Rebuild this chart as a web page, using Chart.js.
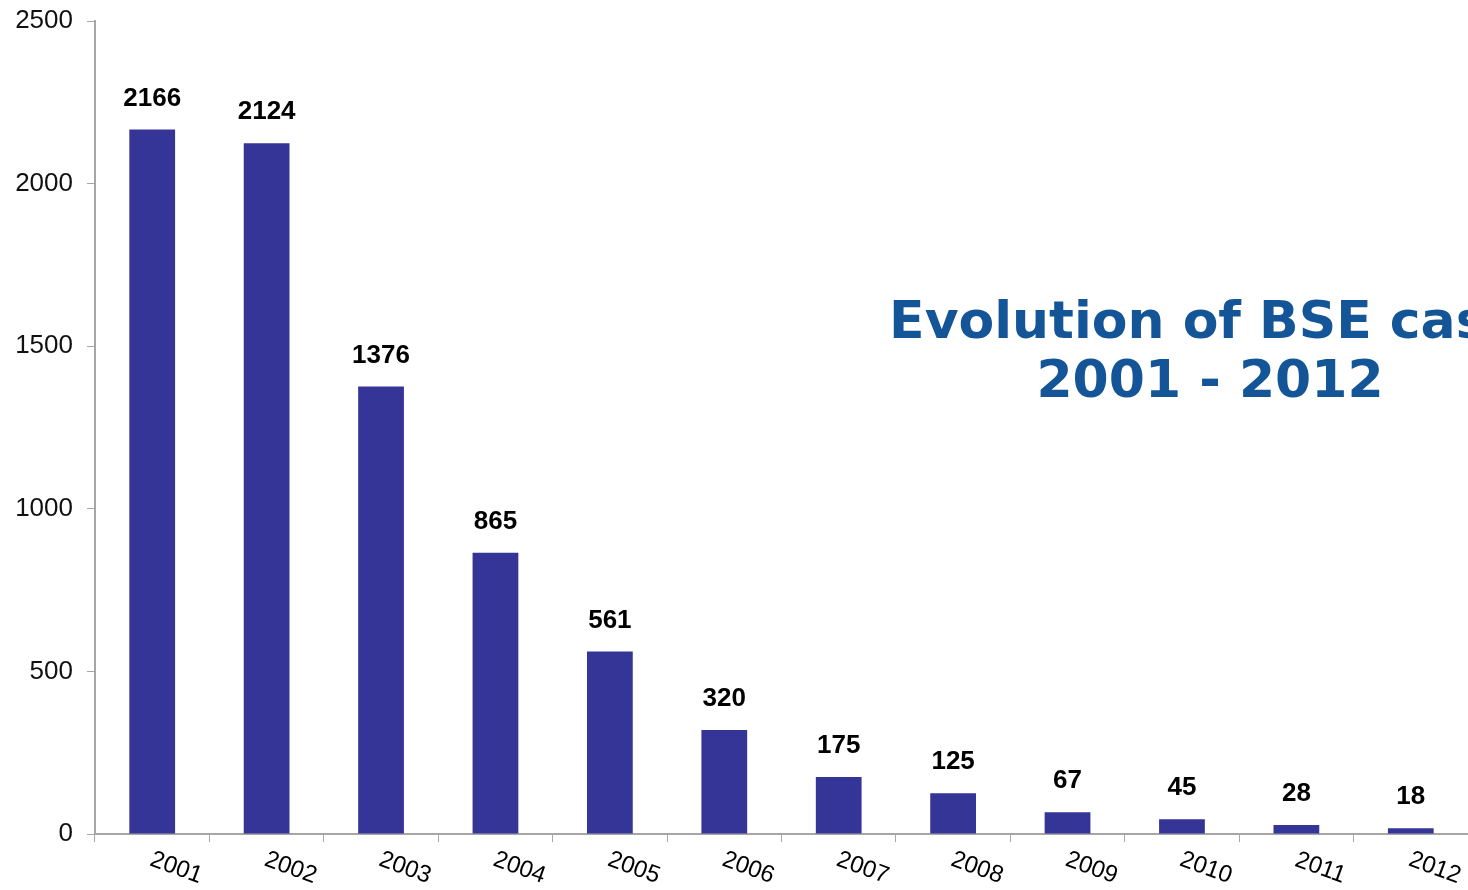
<!DOCTYPE html>
<html>
<head>
<meta charset="utf-8">
<script src="https://cdn.jsdelivr.net/npm/chart.js@4"></script>
<style>
html,body{margin:0;padding:0;background:#fff;}
#wrap{width:1468px;height:890px;position:relative;}
</style>
</head>
<body>
<div id="wrap"><canvas id="c"></canvas></div>
<script>
const years = ['2001','2002','2003','2004','2005','2006','2007','2008','2009','2010','2011','2012'];
const bseCases = [2166, 2124, 1376, 865, 561, 320, 175, 125, 67, 45, 28, 18];
const yTicks = [0, 500, 1000, 1500, 2000, 2500];
const titleLines = ['Evolution of BSE cases', '2001 - 2012'];

const labelsPlugin = {
  id: 'customLabels',
  afterDraw(chart) {
    const ctx = chart.ctx;
    const xs = chart.scales.x;
    const meta = chart.getDatasetMeta(0);
    ctx.save();
    // data labels
    ctx.font = 'bold 26px "Liberation Sans", Arial, sans-serif';
    ctx.fillStyle = '#000';
    ctx.textAlign = 'center';
    ctx.textBaseline = 'alphabetic';
    meta.data.forEach((bar, i) => {
      ctx.fillText(String(bseCases[i]), bar.x, bar.y - 24);
    });
    // x labels, rotated clockwise
    ctx.font = '24px "Liberation Sans", Arial, sans-serif';
    years.forEach((y, i) => {
      const px = xs.getPixelForValue(i) + 24;
      ctx.save();
      ctx.translate(px, xs.top + 34);
      ctx.rotate(20 * Math.PI / 180);
      ctx.textAlign = 'center';
      ctx.textBaseline = 'middle';
      ctx.fillText(y, 0, 0);
      ctx.restore();
    });
    // title
    ctx.fillStyle = '#135596';
    ctx.font = 'bold 52px "DejaVu Sans", Verdana, sans-serif';
    ctx.textAlign = 'center';
    ctx.textBaseline = 'alphabetic';
    ctx.fillText(titleLines[0], 1221, 338);
    ctx.fillText(titleLines[1], 1210, 397);
    ctx.restore();
  }
};

new Chart(document.getElementById('c'), {
  type: 'bar',
  data: {
    labels: years,
    datasets: [{
      data: bseCases,
      backgroundColor: '#353497',
      borderWidth: 0,
      barPercentage: 0.8,
      categoryPercentage: 0.5
    }]
  },
  options: {
    responsive: true,
    maintainAspectRatio: false,
    animation: false,
    layout: { autoPadding: false, padding: { top: 21, right: 0, left: 0, bottom: 0 } },
    plugins: { legend: { display: false }, tooltip: { enabled: false }, title: { display: false } },
    scales: {
      x: {
        grid: { display: true, drawOnChartArea: false, drawTicks: true, tickLength: 8, color: '#a6a6a6', offset: true },
        border: { color: '#a6a6a6', width: 2 },
        ticks: { display: false },
        afterFit(scale) { scale.height = 56; scale.paddingLeft = 0; scale.paddingRight = 0; }
      },
      y: {
        min: 0, max: 2500,
        afterBuildTicks(scale) { scale.ticks = yTicks.map(v => ({ value: v })); },
        grid: { display: true, drawOnChartArea: false, drawTicks: true, tickLength: 8, color: '#a6a6a6' },
        border: { color: '#a6a6a6', width: 2 },
        ticks: { color: '#111', font: { family: '"Liberation Sans", Arial, sans-serif', size: 26 }, padding: 14, callback: v => String(v) },
        afterFit(scale) { scale.width = 95; scale.paddingTop = 0; scale.paddingBottom = 0; }
      }
    }
  },
  plugins: [labelsPlugin]
});
</script>
</body>
</html>
